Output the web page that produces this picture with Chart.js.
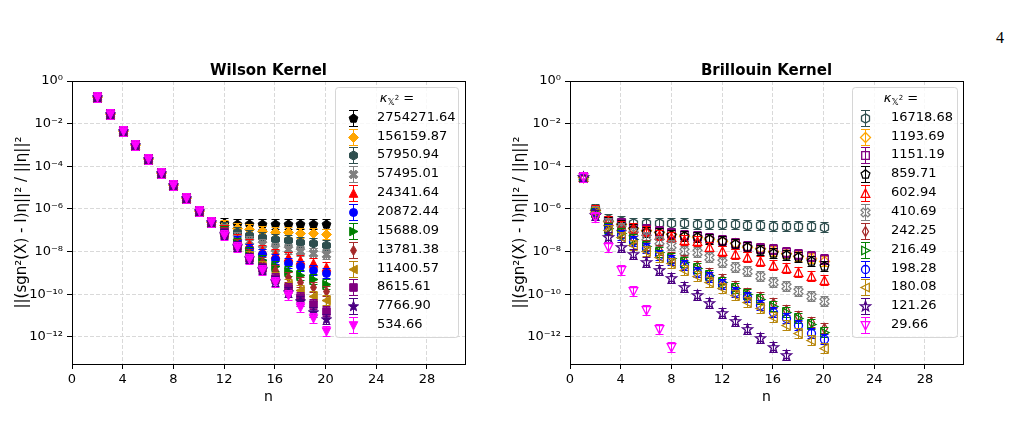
<!DOCTYPE html>
<html><head><meta charset="utf-8">
<script src="https://cdn.jsdelivr.net/npm/chart.js@4.4.1/dist/chart.umd.min.js"></script>
<style>
html,body{margin:0;padding:0;background:#fff;}
body{width:1009px;height:430px;position:relative;overflow:hidden;font-family:"DejaVu Sans",sans-serif;}
.wrap{position:absolute;top:40px;width:500px;height:380px;}
#pg{position:absolute;left:996px;top:29px;font-family:"Liberation Serif",serif;font-size:16px;color:#000;}
</style></head><body>
<div id="pg">4</div>
<div class="wrap" style="left:0px"><canvas id="c1" width="500" height="380"></canvas></div>
<div class="wrap" style="left:498px"><canvas id="c2" width="500" height="380"></canvas></div>
<script>
// ---------------- data ----------------
const xTicks = [0, 4, 8, 12, 16, 20, 24, 28];
const yTicks = [1e-12, 1e-10, 1e-8, 1e-6, 1e-4, 1e-2, 1];

// Wilson kernel: n = 2..20
const nWilson = [2,3,4,5,6,7,8,9,10,11,12,13,14,15,16,17,18,19,20];
// values shared by all series for n = 2..11
const wilsonHead = [1.8e-1, 2.75e-2, 4.7e-3, 1.0e-3, 2.2e-4, 5.0e-5, 1.3e-5, 3.3e-6, 8.3e-7, 2.4e-7];
// per-series values for n = 12..20
const wBlack   = [2.1e-7, 2.0e-7, 2.0e-7, 2.0e-7, 2.0e-7, 2.0e-7, 2.0e-7, 2.0e-7, 2.0e-7];
const wOrange  = [1.8e-7, 1.3e-7, 1.1e-7, 9.5e-8, 8.7e-8, 8.1e-8, 7.4e-8, 7.2e-8, 6.8e-8];
const wTeal    = [1.5e-7, 8.1e-8, 6.0e-8, 4.7e-8, 3.9e-8, 3.4e-8, 2.8e-8, 2.5e-8, 2.0e-8];
const wGray    = [1.1e-7, 5.0e-8, 3.0e-8, 2.2e-8, 1.5e-8, 1.3e-8, 1.1e-8, 8.9e-9, 7.4e-9];
const wRed     = [1.05e-7, 3.8e-8, 2.2e-8, 1.2e-8, 7.8e-9, 5.4e-9, 4.1e-9, 3.0e-9, 2.0e-9];
const wBlue    = [9.5e-8, 3.0e-8, 1.35e-8, 7.4e-9, 4.5e-9, 2.8e-9, 2.1e-9, 1.4e-9, 9.5e-10];
const wGreen   = [8.9e-8, 2.5e-8, 9.3e-9, 4.1e-9, 2.2e-9, 1.3e-9, 7.9e-10, 5.0e-10, 3.2e-10];
const wBrown   = [8.3e-8, 2.2e-8, 7.8e-9, 3.4e-9, 1.4e-9, 6.2e-10, 3.9e-10, 2.3e-10, 1.4e-10];
const wGold    = [7.6e-8, 1.9e-8, 6.3e-9, 2.1e-9, 6.8e-10, 3.0e-10, 1.6e-10, 8.7e-11, 5.4e-11];
const wPurple  = [7.1e-8, 1.8e-8, 5.2e-9, 1.7e-9, 5.6e-10, 1.9e-10, 7.2e-11, 3.4e-11, 1.7e-11];
const wIndigo  = [6.6e-8, 1.8e-8, 4.9e-9, 1.5e-9, 4.4e-10, 1.35e-10, 4.6e-11, 1.55e-11, 6.8e-12];
const wMagenta = [6.0e-8, 1.7e-8, 4.6e-9, 1.4e-9, 3.6e-10, 9.3e-11, 2.6e-11, 7.4e-12, 2.0e-12];
const wilsonLabels = ['2754271.64','156159.87','57950.94','57495.01','24341.64','20872.44','15688.09','13781.38','11400.57','8615.61','7766.90','534.66'];

// Brillouin kernel: n = 1..20
const nBrill = [1,2,3,4,5,6,7,8,9,10,11,12,13,14,15,16,17,18,19,20];
const bTeal    = [3.1e-5, 1.0e-6, 3.5e-7, 2.6e-7, 2.3e-7, 2.3e-7, 2.3e-7, 2.1e-7, 2.1e-7, 2.0e-7, 2.0e-7, 2.0e-7, 1.9e-7, 1.8e-7, 1.8e-7, 1.66e-7, 1.66e-7, 1.6e-7, 1.6e-7, 1.5e-7];
const bOrange  = [3.1e-5, 8.9e-7, 2.8e-7, 2.0e-7, 1.23e-7, 1.02e-7, 8.1e-8, 6.8e-8, 5.6e-8, 4.7e-8, 3.9e-8, 3.2e-8, 2.5e-8, 1.7e-8, 1.45e-8, 1.12e-8, 8.3e-9, 6.3e-9, 4.9e-9, 3.8e-9];
const bPurple  = [3.1e-5, 8.9e-7, 2.8e-7, 2.1e-7, 1.23e-7, 1.12e-7, 9.3e-8, 7.2e-8, 6.0e-8, 5.4e-8, 4.2e-8, 3.5e-8, 2.6e-8, 1.8e-8, 1.5e-8, 1.3e-8, 1.0e-8, 7.8e-9, 6.3e-9, 4.5e-9];
const bBlack   = [3.1e-5, 8.3e-7, 2.5e-7, 1.8e-7, 1.12e-7, 8.7e-8, 7.2e-8, 6.0e-8, 5.4e-8, 4.7e-8, 3.8e-8, 3.0e-8, 2.3e-8, 1.6e-8, 1.2e-8, 8.3e-9, 6.9e-9, 5.4e-9, 3.8e-9, 2.1e-9];
const bRed     = [3.1e-5, 8.9e-7, 2.6e-7, 1.6e-7, 1.23e-7, 9.5e-8, 6.0e-8, 5.0e-8, 3.5e-8, 3.0e-8, 1.6e-8, 1.12e-8, 7.8e-9, 5.4e-9, 3.8e-9, 2.3e-9, 1.7e-9, 1.15e-9, 7.2e-10, 4.7e-10];
const bGray    = [3.1e-5, 7.9e-7, 2.2e-7, 1.23e-7, 7.8e-8, 4.7e-8, 3.0e-8, 2.0e-8, 1.12e-8, 9.5e-9, 5.8e-9, 3.4e-9, 2.0e-9, 1.23e-9, 7.2e-10, 3.9e-10, 2.5e-10, 1.4e-10, 8.3e-11, 5.0e-11];
const bBrown   = [3.1e-5, 7.6e-7, 1.4e-7, 8.7e-8, 4.2e-8, 2.0e-8, 1.2e-8, 5.8e-9, 4.1e-9, 2.1e-9, 1.02e-9, 5.0e-10, 2.5e-10, 1.2e-10, 7.2e-11, 3.8e-11, 1.8e-11, 9.5e-12, 5.2e-12, 2.5e-12];
const bGreen   = [3.1e-5, 7.6e-7, 1.26e-7, 7.2e-8, 3.8e-8, 1.8e-8, 1.0e-8, 4.9e-9, 3.4e-9, 1.7e-9, 7.9e-10, 3.9e-10, 1.9e-10, 1.02e-10, 5.8e-11, 2.8e-11, 1.55e-11, 7.4e-12, 4.1e-12, 1.8e-12];
const bBlue    = [3.1e-5, 7.1e-7, 1.12e-7, 6.0e-8, 3.0e-8, 1.45e-8, 6.9e-9, 4.1e-9, 2.3e-9, 1.15e-9, 6.3e-10, 3.0e-10, 1.3e-10, 7.8e-11, 3.2e-11, 1.55e-11, 7.4e-12, 3.6e-12, 1.6e-12, 7.8e-13];
const bGold    = [3.1e-5, 7.1e-7, 1.0e-7, 4.7e-8, 2.0e-8, 1.12e-8, 5.4e-9, 2.8e-9, 1.4e-9, 7.2e-10, 3.9e-10, 1.9e-10, 9.3e-11, 4.5e-11, 2.2e-11, 8.9e-12, 3.6e-12, 1.5e-12, 7.2e-13, 3.2e-13];
const bIndigo  = [3.1e-5, 5.2e-7, 4.7e-8, 1.7e-8, 7.4e-9, 3.4e-9, 1.4e-9, 5.6e-10, 2.3e-10, 9.3e-11, 3.8e-11, 1.4e-11, 5.6e-12, 2.3e-12, 8.7e-13, 3.5e-13, 1.4e-13];
const bMagenta = [3.1e-5, 4.4e-7, 1.6e-8, 1.4e-9, 1.4e-10, 1.8e-11, 2.3e-12, 3.3e-13];
const brillLabels = ['16718.68','1193.69','1151.19','859.71','602.94','410.69','242.25','216.49','198.28','180.08','121.26','29.66'];

// ---------------- styles ----------------
const FONT = '"DejaVu Sans", sans-serif';
const C = {black:'#000000', orange:'#FFA500', teal:'#2F4F4F', gray:'#808080', red:'#FF0000', blue:'#0000FF',
           green:'#008000', brown:'#A52A2A', gold:'#B8860B', purple:'#800080', indigo:'#4B0082', magenta:'#FF00FF'};
const SHAPE = {black:'p', orange:'D', teal:'h', gray:'X', red:'^', blue:'o', green:'>', brown:'d', gold:'<', purple:'s', indigo:'*', magenta:'v'};

function shapePath(g, shape, cx, cy) {
  g.beginPath();
  const poly = pts => { pts.forEach((p, i) => i ? g.lineTo(cx + p[0], cy + p[1]) : g.moveTo(cx + p[0], cy + p[1])); g.closePath(); };
  const reg = (n, r) => { const pts = []; for (let i = 0; i < n; i++) { const a = 2 * Math.PI * i / n; pts.push([r * Math.sin(a), -r * Math.cos(a)]); } poly(pts); };
  switch (shape) {
    case 'o': g.arc(cx, cy, 4, 0, 2 * Math.PI); break;
    case 'D': poly([[0,-5],[5,0],[0,5],[-5,0]]); break;
    case 'd': poly([[0,-5],[3,0],[0,5],[-3,0]]); break;
    case 's': poly([[-3.8,-3.8],[3.8,-3.8],[3.8,3.8],[-3.8,3.8]]); break;
    case '^': poly([[0,-4.5],[4.3,3.8],[-4.3,3.8]]); break;
    case 'v': poly([[0,4.5],[4.3,-3.8],[-4.3,-3.8]]); break;
    case '>': poly([[4.5,0],[-3.8,-4.3],[-3.8,4.3]]); break;
    case '<': poly([[-4.5,0],[3.8,-4.3],[3.8,4.3]]); break;
    case 'p': reg(5, 4.6); break;
    case 'h': reg(6, 4.6); break;
    case '*': { const pts = []; for (let i = 0; i < 10; i++) { const r = i % 2 ? 2.2 : 5.3; const a = Math.PI * i / 5; pts.push([r * Math.sin(a), -r * Math.cos(a)]); } poly(pts); break; }
    case 'X': { const w = 1.5, L = 4.8; const base = [[w,-L],[w,-w],[L,-w],[L,w],[w,w],[w,L],[-w,L],[-w,w],[-L,w],[-L,-w],[-w,-w],[-w,-L]];
                const k = Math.SQRT1_2; poly(base.map(p => [k*(p[0]-p[1]), k*(p[0]+p[1])])); break; }
  }
}
// marker image: centre at (13.5, 13.5) so 1px lines are crisp
function makeMarker(key, filled, errHalf, capHalf) {
  const S = 27, c = document.createElement('canvas'); c.width = S; c.height = S;
  const g = c.getContext('2d'); const cx = 13.5, cy = 13.5; const col = C[key];
  g.strokeStyle = col; g.fillStyle = col; g.lineWidth = 1;
  g.beginPath();
  g.moveTo(cx, cy - errHalf); g.lineTo(cx, cy + errHalf);
  g.moveTo(cx - capHalf, cy - errHalf); g.lineTo(cx + capHalf, cy - errHalf);
  g.moveTo(cx - capHalf, cy + errHalf); g.lineTo(cx + capHalf, cy + errHalf);
  g.stroke();
  shapePath(g, SHAPE[key], cx, cy);
  if (filled) { g.fill(); g.stroke(); }
  else { g.lineWidth = 1.3; g.stroke(); }
  return c;
}

const SUP = {'-':'\u207B','0':'\u2070','1':'\u00B9','2':'\u00B2','3':'\u00B3','4':'\u2074','5':'\u2075','6':'\u2076','7':'\u2077','8':'\u2078','9':'\u2079'};
function pow10Label(v) { const e = Math.round(Math.log10(v)); return '10' + String(e).split('').map(ch => SUP[ch]).join(''); }

// ---------------- plugins ----------------
const crispPoints = { id: 'crisp', beforeDatasetDraw(chart, args) {
  const ds = chart.data.datasets[args.index]; if (!ds.markerImg) return;
  const ctx = chart.ctx, a = chart.chartArea; ctx.save();
  ctx.beginPath(); ctx.rect(a.left, a.top, a.right - a.left, a.bottom - a.top); ctx.clip();
  args.meta.data.forEach(el => { if (!el.skip) ctx.drawImage(ds.markerImg, Math.round(el.x) - 13, Math.round(el.y) - 13); });
  ctx.restore(); return false; } };
const framePlugin = { id: 'frame', afterDatasetsDraw(chart) {
  const {ctx, chartArea: a} = chart; ctx.save(); ctx.strokeStyle = '#000'; ctx.lineWidth = 1;
  const l = Math.floor(a.left) + 0.5, t = Math.floor(a.top) + 0.5, r = Math.floor(a.right) + 0.5, b = Math.floor(a.bottom) + 0.5;
  ctx.strokeRect(l, t, r - l, b - t); ctx.restore(); } };
const titlePlugin = { id: 'ttl', afterDraw(chart, args, o) {
  const {ctx, chartArea: a} = chart; ctx.save(); ctx.fillStyle = '#000'; ctx.font = 'bold 15px ' + FONT;
  ctx.textAlign = 'center'; ctx.textBaseline = 'alphabetic'; ctx.fillText(o.text, (a.left + a.right) / 2, a.top - 6); ctx.restore(); } };
const legendPlugin = { id: 'kleg', afterDraw(chart, args, o) {
  const ctx = chart.ctx; ctx.save();
  ctx.beginPath(); ctx.roundRect(o.left + 0.5, o.top + 0.5, o.width, o.height, 3);
  ctx.fillStyle = 'rgba(255,255,255,0.8)'; ctx.fill(); ctx.strokeStyle = 'rgba(204,204,204,0.8)'; ctx.lineWidth = 1; ctx.stroke();
  // title: kappa_{X^2} =
  ctx.fillStyle = '#000'; ctx.textBaseline = 'alphabetic'; ctx.textAlign = 'left';
  const parts = [['italic 13px ' + FONT, '\u03BA', 0], ['9px ' + FONT, '\uD835\uDD4F', 3], ['7px ' + FONT, '2', -2], ['13px ' + FONT, ' =', 0]];
  let w = 0; parts.forEach(p => { ctx.font = p[0]; w += ctx.measureText(p[1]).width; });
  let x = o.titleX - w / 2;
  parts.forEach(p => { ctx.font = p[0]; ctx.fillText(p[1], x, o.titleY + p[2]); x += ctx.measureText(p[1]).width; });
  ctx.font = '13px ' + FONT; ctx.textBaseline = 'middle';
  o.items.forEach((it, i) => {
    const y = Math.round(o.rowY0 + i * o.rowDy);
    ctx.drawImage(it.img, Math.round(o.markerX) - 13, y - 13);
    ctx.fillText(it.label, o.textX, y);
  });
  ctx.restore(); } };

// ---------------- build ----------------
const wilsonKeys = ['black','orange','teal','gray','red','blue','green','brown','gold','purple','indigo','magenta'];
const wilsonTails = [wBlack, wOrange, wTeal, wGray, wRed, wBlue, wGreen, wBrown, wGold, wPurple, wIndigo, wMagenta];
const brillKeys = ['teal','orange','purple','black','red','gray','brown','green','blue','gold','indigo','magenta'];
const brillVals = [bTeal, bOrange, bPurple, bBlack, bRed, bGray, bBrown, bGreen, bBlue, bGold, bIndigo, bMagenta];

function buildSets(keys, valsList, nList, filled, labels) {
  const N = keys.length;
  return keys.map((k, i) => {
    const img = makeMarker(k, filled, 5, 4);
    return {
      label: labels[i],
      data: valsList[i].map((v, j) => ({x: nList[j], y: v})),
      pointStyle: img, markerImg: img,
      pointRadius: 5, showLine: false, order: N - i
    };
  });
}
function legendItems(keys, filled, labels) { return keys.map((k, i) => ({img: makeMarker(k, filled, 8, 4.5), label: labels[i]})); }

function makeChart(id, title, datasets, leg) {
  new Chart(document.getElementById(id), {
    type: 'scatter',
    data: {datasets},
    options: {
      responsive: false, animation: false, devicePixelRatio: 1,
      layout: {padding: {top: 41, right: 35, left: 0, bottom: 0}},
      plugins: {legend: {display: false}, tooltip: {enabled: false}, ttl: {text: title}, kleg: leg},
      scales: {
        x: {type: 'linear', min: 0, max: 31,
            afterBuildTicks: s => { s.ticks = xTicks.map(v => ({value: v})); },
            afterFit: s => { s.height = 56; },
            grid: {color: '#d9d9d9', lineWidth: 1, tickColor: '#000', tickLength: 5, tickWidth: 1},
            border: {display: false, dash: [4, 2]},
            ticks: {color: '#000', font: {family: FONT, size: 13}, padding: 3, maxRotation: 0, autoSkip: false},
            title: {display: true, text: 'n', color: '#000', font: {family: FONT, size: 14}, padding: {top: 0, bottom: 14}}},
        y: {type: 'logarithmic', min: 5.4e-14, max: 1,
            afterBuildTicks: s => { s.ticks = yTicks.map(v => ({value: v, major: true})); },
            afterFit: s => { s.width = 72; },
            grid: {color: '#d9d9d9', lineWidth: 1, tickColor: '#000', tickLength: 5, tickWidth: 1},
            border: {display: false, dash: [4, 2]},
            ticks: {color: '#000', font: {family: FONT, size: 13}, padding: 4, autoSkip: false, callback: v => pow10Label(v)},
            title: {display: true, text: '||(sgn\u00B2(X) - I)\u03B7||\u00B2 / ||\u03B7||\u00B2', color: '#000', font: {family: FONT, size: 15}, padding: {top: 13, bottom: 0}}}
      }
    },
    plugins: [crispPoints, framePlugin, titlePlugin, legendPlugin]
  });
}

const wilsonSets = buildSets(wilsonKeys, wilsonTails.map(t => wilsonHead.concat(t)), nWilson, true, wilsonLabels);
makeChart('c1', 'Wilson Kernel', wilsonSets, {
  left: 335, top: 47, width: 123, height: 250, titleX: 397, titleY: 62,
  markerX: 353, textX: 377, rowY0: 77.7, rowDy: 18.85, items: legendItems(wilsonKeys, true, wilsonLabels)});

const brillSets = buildSets(brillKeys, brillVals, nBrill, false, brillLabels);
makeChart('c2', 'Brillouin Kernel', brillSets, {
  left: 354, top: 47, width: 105, height: 250, titleX: 403, titleY: 62,
  markerX: 367, textX: 393, rowY0: 77.7, rowDy: 18.85, items: legendItems(brillKeys, false, brillLabels)});
</script>
</body></html>
